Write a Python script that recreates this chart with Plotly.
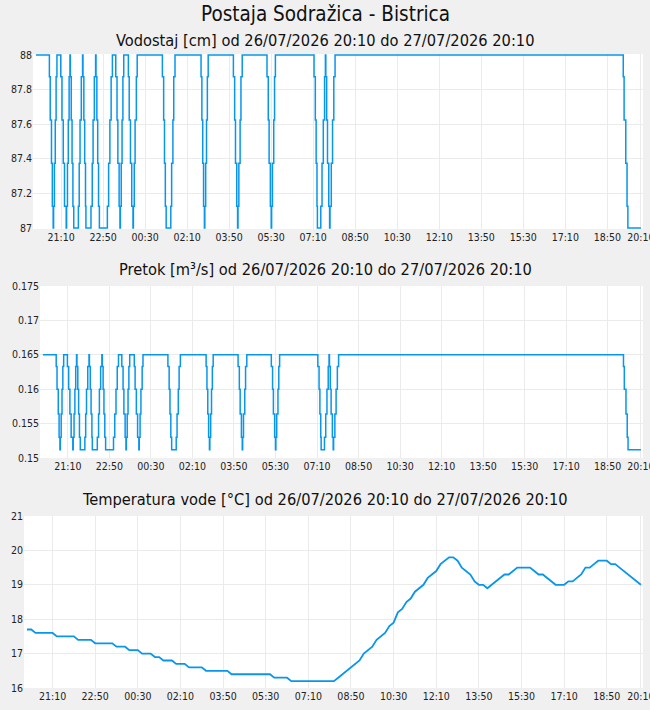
import plotly.graph_objects as go
import pandas as pd

# ---------------- data ----------------
START = "2026-07-26 20:10"
MAIN_TITLE = "Postaja Sodražica - Bistrica"
SUB_TITLES = [
    "Vodostaj [cm] od 26/07/2026 20:10 do 27/07/2026 20:10",
    "Pretok [m³/s] od 26/07/2026 20:10 do 27/07/2026 20:10",
    "Temperatura vode [°C] od 26/07/2026 20:10 do 27/07/2026 20:10",
]

# change points (minutes after START) for water level / discharge (step series)
level_min = [
    0,
    32, 34, 37, 39, 41, 42, 44, 46, 48, 50,
    59, 62, 65, 68, 72, 73, 75, 77, 79, 81,
    82, 84, 86, 88, 90, 101, 103, 105, 108, 111,
    112, 114, 116, 118, 119, 131, 134, 136, 139, 142,
    143, 145, 147, 149, 151, 170, 173, 176, 179, 182,
    190, 193, 195, 198, 200, 201, 203, 205, 207, 209,
    220, 222, 225, 228, 231, 232, 234, 236, 239, 241,
    301, 304, 306, 308, 310, 321, 323, 326, 328, 331,
    393, 395, 397, 399, 401, 402, 404, 406, 408, 410,
    470, 473, 475, 478, 480, 481, 483, 486, 488, 491,
    550, 553, 555, 558, 560, 561, 563, 566, 568, 570,
    662, 665, 667, 669, 670, 678, 681, 684, 687, 689,
    690, 692, 694, 697, 699, 700, 703, 706, 709, 712,
    1398, 1400, 1404, 1407, 1409, 1440,
]
level_cm = [
    88,
    87.875, 87.625, 87.375, 87.125, 87, 87.125, 87.375, 87.625, 87.875, 88,
    87.875, 87.625, 87.375, 87.125, 87, 87.125, 87.375, 87.625, 87.875, 88,
    87.875, 87.625, 87.375, 87.125, 87, 87.125, 87.375, 87.625, 87.875, 88,
    87.875, 87.625, 87.375, 87.125, 87, 87.125, 87.375, 87.625, 87.875, 88,
    87.875, 87.625, 87.375, 87.125, 87, 87.125, 87.375, 87.625, 87.875, 88,
    87.875, 87.625, 87.375, 87.125, 87, 87.125, 87.375, 87.625, 87.875, 88,
    87.875, 87.625, 87.375, 87.125, 87, 87.125, 87.375, 87.625, 87.875, 88,
    87.875, 87.625, 87.375, 87.125, 87, 87.125, 87.375, 87.625, 87.875, 88,
    87.875, 87.625, 87.375, 87.125, 87, 87.125, 87.375, 87.625, 87.875, 88,
    87.875, 87.625, 87.375, 87.125, 87, 87.125, 87.375, 87.625, 87.875, 88,
    87.875, 87.625, 87.375, 87.125, 87, 87.125, 87.375, 87.625, 87.875, 88,
    87.875, 87.625, 87.375, 87.125, 87, 87.125, 87.375, 87.625, 87.875, 88,
    87.875, 87.625, 87.375, 87.125, 87, 87.125, 87.375, 87.625, 87.875, 88,
    87.875, 87.625, 87.375, 87.125, 87, 87,
]
flow_m3s = [
    0.165,
    0.1633, 0.16, 0.1564, 0.153, 0.1512, 0.153, 0.1564, 0.16, 0.1633, 0.165,
    0.1633, 0.16, 0.1564, 0.153, 0.1512, 0.153, 0.1564, 0.16, 0.1633, 0.165,
    0.1633, 0.16, 0.1564, 0.153, 0.1512, 0.153, 0.1564, 0.16, 0.1633, 0.165,
    0.1633, 0.16, 0.1564, 0.153, 0.1512, 0.153, 0.1564, 0.16, 0.1633, 0.165,
    0.1633, 0.16, 0.1564, 0.153, 0.1512, 0.153, 0.1564, 0.16, 0.1633, 0.165,
    0.1633, 0.16, 0.1564, 0.153, 0.1512, 0.153, 0.1564, 0.16, 0.1633, 0.165,
    0.1633, 0.16, 0.1564, 0.153, 0.1512, 0.153, 0.1564, 0.16, 0.1633, 0.165,
    0.1633, 0.16, 0.1564, 0.153, 0.1512, 0.153, 0.1564, 0.16, 0.1633, 0.165,
    0.1633, 0.16, 0.1564, 0.153, 0.1512, 0.153, 0.1564, 0.16, 0.1633, 0.165,
    0.1633, 0.16, 0.1564, 0.153, 0.1512, 0.153, 0.1564, 0.16, 0.1633, 0.165,
    0.1633, 0.16, 0.1564, 0.153, 0.1512, 0.153, 0.1564, 0.16, 0.1633, 0.165,
    0.1633, 0.16, 0.1564, 0.153, 0.1512, 0.153, 0.1564, 0.16, 0.1633, 0.165,
    0.1633, 0.16, 0.1564, 0.153, 0.1512, 0.153, 0.1564, 0.16, 0.1633, 0.165,
    0.1633, 0.16, 0.1564, 0.153, 0.1512, 0.1512,
]

# water temperature every 10 minutes from START
temp_step_min = 10
temp_c = [
    17.7, 17.7, 17.6, 17.6, 17.6, 17.6, 17.6, 17.5, 17.5, 17.5,
    17.5, 17.5, 17.4, 17.4, 17.4, 17.4, 17.3, 17.3, 17.3, 17.3,
    17.3, 17.2, 17.2, 17.2, 17.1, 17.1, 17.1, 17.0, 17.0, 17.0,
    16.9, 16.9, 16.8, 16.8, 16.8, 16.7, 16.7, 16.7, 16.6, 16.6,
    16.6, 16.6, 16.5, 16.5, 16.5, 16.5, 16.5, 16.5, 16.4, 16.4,
    16.4, 16.4, 16.4, 16.4, 16.4, 16.4, 16.4, 16.4, 16.3, 16.3,
    16.3, 16.3, 16.2, 16.2, 16.2, 16.2, 16.2, 16.2, 16.2, 16.2,
    16.2, 16.2, 16.2, 16.3, 16.4, 16.5, 16.6, 16.7, 16.8, 17.0,
    17.1, 17.2, 17.4, 17.5, 17.6, 17.8, 17.9, 18.2, 18.3, 18.5,
    18.6, 18.8, 18.9, 19.0, 19.2, 19.3, 19.4, 19.6, 19.7, 19.8,
    19.8, 19.7, 19.5, 19.4, 19.3, 19.1, 19.0, 19.0, 18.9, 19.0,
    19.1, 19.2, 19.3, 19.3, 19.4, 19.5, 19.5, 19.5, 19.5, 19.4,
    19.3, 19.3, 19.2, 19.1, 19.0, 19.0, 19.0, 19.1, 19.1, 19.2,
    19.3, 19.5, 19.5, 19.6, 19.7, 19.7, 19.7, 19.6, 19.6, 19.5,
    19.4, 19.3, 19.2, 19.1, 19.0,
]

tick_min = [60, 160, 260, 360, 460, 560, 660, 760, 860, 960, 1060, 1160, 1260, 1360, 1440]
tick_text = ["21:10", "22:50", "00:30", "02:10", "03:50", "05:30", "07:10", "08:50",
             "10:30", "12:10", "13:50", "15:30", "17:10", "18:50", "20:10"]

# ---------------- build ----------------
t0 = pd.Timestamp(START)
def ts(m):
    return t0 + pd.Timedelta(minutes=m)

level_t = [ts(m) for m in level_min]
temp_t = [ts(i * temp_step_min) for i in range(len(temp_c))]
tick_vals = [ts(m) for m in tick_min]

W, H = 650, 710
FONT = "DejaVu Sans Condensed, DejaVu Sans, sans-serif"
BLUE = "#0896ec"
GRID = "#ebebeb"

fig = go.Figure()
fig.add_trace(go.Scatter(x=level_t, y=level_cm, mode="lines", line=dict(color=BLUE, width=1.5, shape="hv"),
                         xaxis="x", yaxis="y", showlegend=False))
fig.add_trace(go.Scatter(x=level_t, y=flow_m3s, mode="lines", line=dict(color=BLUE, width=1.5, shape="hv"),
                         xaxis="x2", yaxis="y2", showlegend=False))
fig.add_trace(go.Scatter(x=temp_t, y=temp_c, mode="lines", line=dict(color=BLUE, width=1.8),
                         xaxis="x3", yaxis="y3", showlegend=False))

xr = [ts(-7), ts(1445)]

def xax(left, anchor):
    return dict(domain=[left / W, 643 / W], anchor=anchor, range=xr, tickmode="array",
                tickvals=tick_vals, ticktext=tick_text, showgrid=True, gridcolor=GRID,
                gridwidth=1, zeroline=False, showline=False, ticks="", automargin=False,
                ticklabeloverflow="allow",
                tickfont=dict(family=FONT, size=10.5, color="#222"), fixedrange=True)

def yax(top, bot, anchor, rng, pad=0):
    return dict(domain=[(H - bot - pad) / H, (H - top + pad) / H], anchor=anchor, range=rng,
                showgrid=True, gridcolor=GRID, gridwidth=1, automargin=False,
                zeroline=False, showline=False, ticks="", ticklabeloverflow="allow",
                tickfont=dict(family=FONT, size=10.5, color="#222"), fixedrange=True)

u = 1.0 / 173  # one pixel in level units
fig.update_layout(
    width=W, height=H,
    margin=dict(l=0, r=0, t=0, b=0, pad=0, autoexpand=False),
    paper_bgcolor="#f0f0f0", plot_bgcolor="#ffffff",
    font=dict(family=FONT, color="#111"),
    xaxis=xax(33, "y"),
    yaxis=dict(yax(55, 228, "x", [87 - u, 88 + u], pad=1), tickmode="array",
               tickvals=[87, 87.2, 87.4, 87.6, 87.8, 88],
               ticktext=["87", "87.2", "87.4", "87.6", "87.8", "88"]),
    xaxis2=xax(40, "y2"),
    yaxis2=dict(yax(286, 458, "x2", [0.15, 0.175]), tickmode="array",
                tickvals=[0.15, 0.155, 0.16, 0.165, 0.17, 0.175],
                ticktext=["0.15", "0.155", "0.16", "0.165", "0.17", "0.175"]),
    xaxis3=xax(24, "y3"),
    yaxis3=dict(yax(516, 688, "x3", [16, 21]), tickmode="array",
                tickvals=[16, 17, 18, 19, 20, 21],
                ticktext=["16", "17", "18", "19", "20", "21"]),
)

ann = [dict(text=MAIN_TITLE, x=0.5, y=1 - 14 / H, size=20.5)]
for s, yp in zip(SUB_TITLES, [40, 270, 500]):
    ann.append(dict(text=s, x=0.5, y=1 - yp / H, size=16.3))
for a in ann:
    fig.add_annotation(text=a["text"], x=a["x"], y=a["y"], xref="paper", yref="paper",
                       xanchor="center", yanchor="middle", showarrow=False,
                       font=dict(family=FONT, size=a["size"], color="#111"))

fig.write_html("out.html")
